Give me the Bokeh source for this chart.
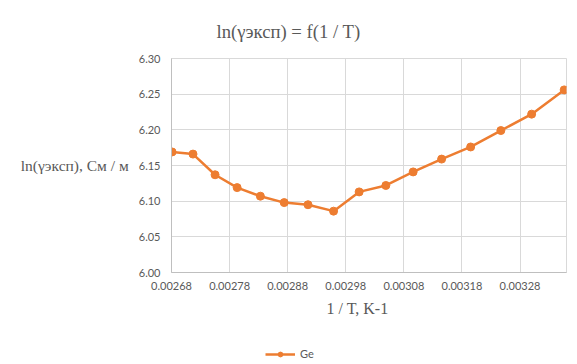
from bokeh.plotting import figure
from bokeh.models import (FixedTicker, PrintfTickFormatter, Legend, LegendItem, Range1d, Title)
from bokeh.layouts import column
from bokeh.embed import file_html
from bokeh.resources import INLINE

# data: x = 1/T (K^-1), y = ln(gamma_exp)
inv_T = [0.002681, 0.002717, 0.002755, 0.002793, 0.002833, 0.002874, 0.002915, 0.002959,
         0.003003, 0.003049, 0.003096, 0.003145, 0.003195, 0.003247, 0.003300, 0.003356]
ln_gamma = [6.169, 6.166, 6.137, 6.119, 6.107, 6.098, 6.095, 6.086,
            6.113, 6.122, 6.141, 6.159, 6.176, 6.199, 6.222, 6.256]
series_name = "Ge"
x_ticks = [0.00268, 0.00278, 0.00288, 0.00298, 0.00308, 0.00318, 0.00328]
y_ticks = [6.00, 6.05, 6.10, 6.15, 6.20, 6.25, 6.30]
title_text = "ln(γэксп) = f(1 / T)"
x_label = "1 / T, K-1"
y_label = "ln(γэксп), См / м"

ORANGE = "#ED7D31"
TEXT = "#595959"
SERIF = "Liberation Serif"

p = figure(width=577, height=344, output_backend="svg", toolbar_location=None,
           x_range=Range1d(0.00268, 0.00336), y_range=Range1d(6.0, 6.3),
           min_border_left=171, min_border_right=11, min_border_top=58, min_border_bottom=72)

p.title.text = title_text
p.title.align = "left"
p.title.offset = 45
p.title.text_font = SERIF
p.title.text_font_size = "18.7px"
p.title.text_font_style = "normal"
p.title.text_color = TEXT
p.title.standoff = 34

p.xaxis.ticker = FixedTicker(ticks=x_ticks)
p.yaxis.ticker = FixedTicker(ticks=y_ticks)
p.xaxis.formatter = PrintfTickFormatter(format="%.5f")
p.yaxis.formatter = PrintfTickFormatter(format="%.2f")
for ax in (p.xaxis, p.yaxis):
    ax.major_tick_line_color = None
    ax.minor_tick_line_color = None
    ax.axis_line_color = "#bfbfbf"
    ax.major_label_text_font = "Lato"
    ax.major_label_text_font_size = "11px"
    ax.major_label_text_color = TEXT
p.xaxis.major_label_standoff = 3
p.yaxis.major_label_standoff = 5

p.yaxis.axis_label = y_label
p.yaxis.axis_label_orientation = "horizontal"
p.yaxis.axis_label_standoff = 7
p.yaxis.axis_label_text_font = SERIF
p.yaxis.axis_label_text_font_size = "15.5px"
p.yaxis.axis_label_text_font_style = "normal"
p.yaxis.axis_label_text_color = TEXT

p.xgrid.grid_line_color = "#d9d9d9"
p.ygrid.grid_line_color = "#d9d9d9"
p.outline_line_color = "#d9d9d9"
p.background_fill_color = "white"
p.border_fill_color = "white"

p.line(inv_T, ln_gamma, line_color=ORANGE, line_width=2.5)
p.scatter(inv_T, ln_gamma, size=8, fill_color=ORANGE, line_color=ORANGE)

xt = Title(text=x_label, align="left", offset=155, text_font=SERIF, text_font_size="16px",
           text_font_style="normal", text_color=TEXT, standoff=10)
p.add_layout(xt, "below")

# legend strip under the chart (its frame is aligned with the chart frame by the column)
lg = figure(width=577, height=20, output_backend="svg", toolbar_location=None,
            x_axis_type=None, y_axis_type=None, min_border=0,
            x_range=Range1d(0, 1), y_range=Range1d(0, 1))
lg.grid.visible = False
lg.outline_line_color = None
lg.background_fill_color = "white"
lg.border_fill_color = "white"
# same series, outside this strip's visible range: only used to draw the legend sample
r_line = lg.line(inv_T, ln_gamma, line_color=ORANGE, line_width=2.5)
r_mark = lg.scatter(inv_T, ln_gamma, size=8, fill_color=ORANGE, line_color=ORANGE)
legend = Legend(items=[LegendItem(label=series_name, renderers=[r_line, r_mark])],
                location=(94, 4), orientation="horizontal",
                glyph_width=30, glyph_height=12, label_height=12,
                padding=0, margin=0, spacing=0,
                label_text_font="Lato", label_text_font_size="11px", label_text_color=TEXT,
                border_line_color=None, background_fill_alpha=0, label_standoff=5)
lg.add_layout(legend, "center")

layout = column(p, lg, spacing=0)
open("out.html", "w").write(file_html(layout, INLINE))
